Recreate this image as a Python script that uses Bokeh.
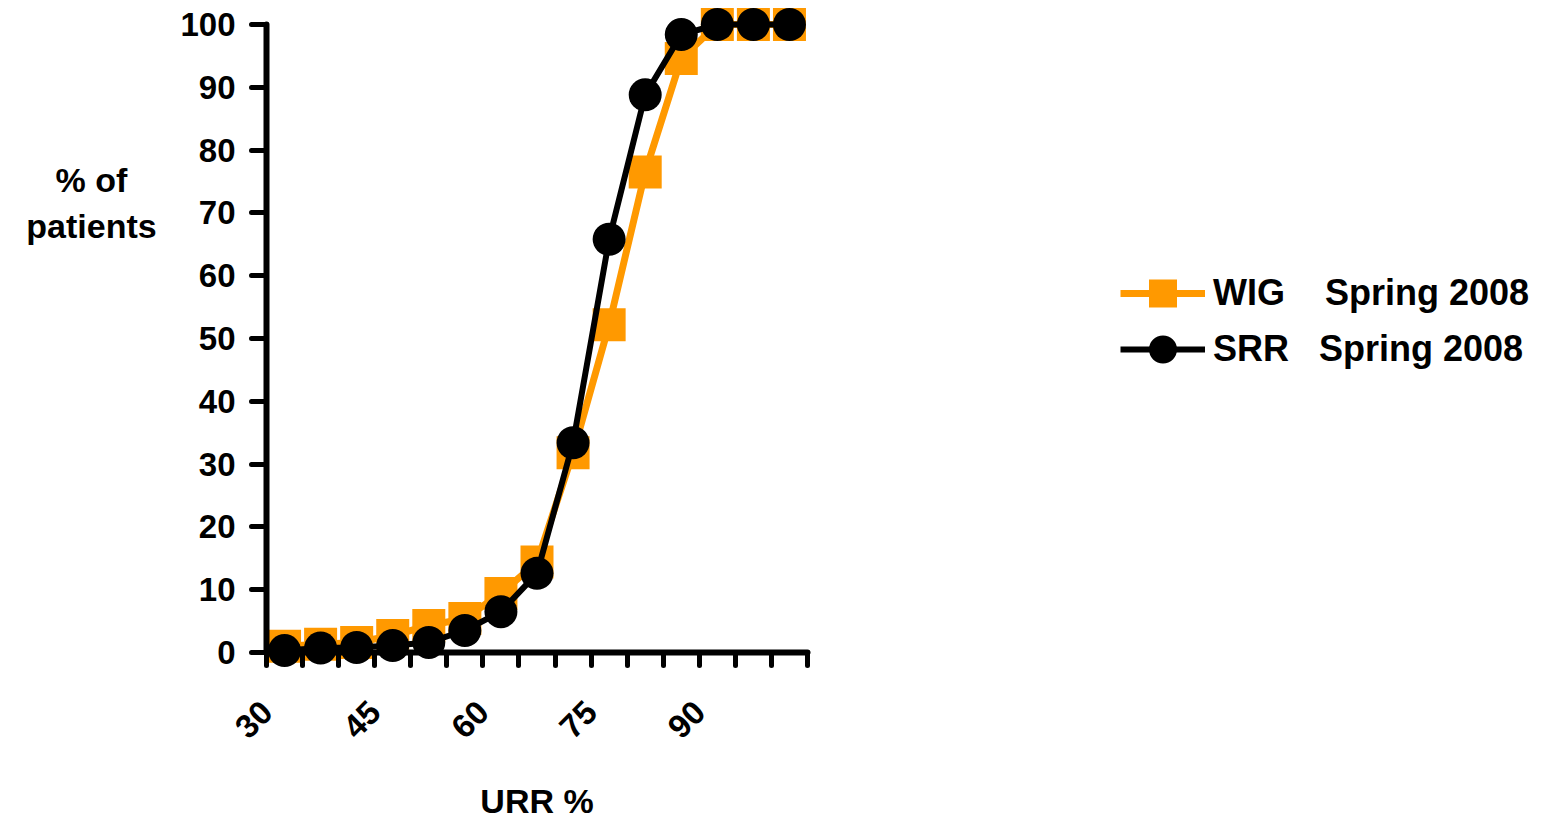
from math import pi
from bokeh.plotting import figure
from bokeh.models import Range1d, FixedTicker, Legend, LegendItem, Label
from bokeh.embed import file_html
from bokeh.resources import INLINE

# ---- data ----
urr = [32.5, 37.5, 42.5, 47.5, 52.5, 57.5, 62.5, 67.5, 72.5, 77.5, 82.5, 87.5, 92.5, 97.5, 102.5]
wig = [1.0, 1.3, 1.6, 2.7, 4.3, 5.4, 9.4, 14.4, 31.8, 52.2, 76.5, 94.6, 100.0, 100.0, 100.0]
srr = [0.3, 0.7, 0.8, 1.1, 1.6, 3.5, 6.5, 12.6, 33.4, 65.8, 88.8, 98.4, 100.0, 100.0, 100.0]
x_ticks = [30, 35, 40, 45, 50, 55, 60, 65, 70, 75, 80, 85, 90, 95, 100, 105]
x_labeled = [30, 45, 60, 75, 90]
y_ticks = [0, 10, 20, 30, 40, 50, 60, 70, 80, 90, 100]
wig_label = "WIG\u00a0\u00a0\u00a0\u00a0Spring 2008"
srr_label = "SRR\u00a0\u00a0\u00a0Spring 2008"
y_title = ["% of", "patients"]
x_title = "URR %"

ORANGE = "#FF9900"
FONT = "Liberation Sans"

W, H = 1540, 825
PXU = 541 / 75.0     # pixels per x unit
PYU = 628 / 100.0    # pixels per y unit
X0_PIX, Y0_PIX = 266, 652   # where the axes cross
TXT_SHIFT = 11              # label baseline correction (px)

x_start = 30 - X0_PIX / PXU
x_end = 30 + (W - X0_PIX) / PXU
y_end = (Y0_PIX) / PYU
y_start = -(H - Y0_PIX) / PYU


def ypix(py):
    return (Y0_PIX - (py - TXT_SHIFT)) / PYU


p = figure(width=W, height=H, output_backend="svg", toolbar_location=None,
           x_range=Range1d(x_start, x_end), y_range=Range1d(y_start, y_end),
           min_border_left=0, min_border_right=0, min_border_top=0,
           min_border_bottom=0)
p.outline_line_color = None
p.xgrid.visible = False
p.ygrid.visible = False

l1 = p.line(urr, wig, line_color=ORANGE, line_width=7)
s1 = p.scatter(urr, wig, marker="square", size=33, fill_color=ORANGE, line_color=None)
l2 = p.line(urr, srr, line_color="black", line_width=6)
s2 = p.scatter(urr, srr, marker="circle", size=33, fill_color="black", line_color=None)

for ax in (p.xaxis[0], p.yaxis[0]):
    ax.axis_line_width = 6
    ax.axis_line_cap = "round"
    ax.major_tick_line_width = 5
    ax.major_tick_line_cap = "round"
    ax.major_tick_in = 0
    ax.minor_tick_line_color = None
    ax.major_label_text_font = FONT
    ax.major_label_text_font_style = "bold"
    ax.major_label_text_font_size = "33px"
    ax.major_label_text_color = "black"

xa = p.xaxis[0]
xa.fixed_location = 0
xa.bounds = (30, 105)
xa.ticker = FixedTicker(ticks=x_ticks)
xa.major_label_overrides = {t: (str(t) if t in x_labeled else "") for t in x_ticks}
xa.major_tick_out = 13
xa.major_label_orientation = pi / 4
xa.major_label_standoff = 41

ya = p.yaxis[0]
ya.fixed_location = 30
ya.bounds = (0, 100)
ya.ticker = FixedTicker(ticks=y_ticks)
ya.major_tick_out = 15
ya.major_label_standoff = 16

# axis titles
for txt, py in zip(y_title, [190, 236]):
    p.add_layout(Label(x=30 + (91 - X0_PIX) / PXU, y=ypix(py), text=txt, text_align="center",
                       text_baseline="alphabetic", text_font=FONT, text_color="black",
                       text_font_style="bold", text_font_size="34px"))
p.add_layout(Label(x=(30 + 105) / 2, y=ypix(811), text=x_title, text_align="center",
                   text_baseline="alphabetic", text_font=FONT, text_color="black",
                   text_font_style="bold", text_font_size="34px"))

for lab, rends, cy in [(wig_label, [l1, s1], 293), (srr_label, [l2, s2], 349)]:
    lg = Legend(items=[LegendItem(label=lab, renderers=rends)],
                location=(1120, H - cy - 35),
                glyph_width=85, glyph_height=70, label_height=70, label_standoff=8,
                padding=0, margin=0, spacing=0, border_line_color=None,
                background_fill_alpha=0, label_text_font=FONT,
                label_text_color="black",
                label_text_font_style="bold", label_text_font_size="36px")
    p.add_layout(lg)

open("out.html", "w").write(file_html(p, INLINE))
